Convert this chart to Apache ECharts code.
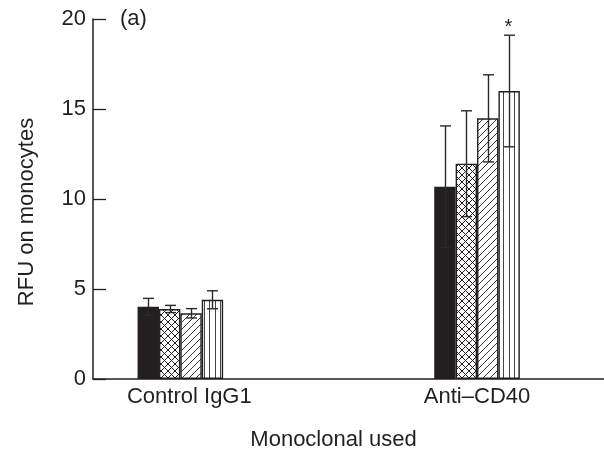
<!DOCTYPE html>
<html>
<head>
<meta charset="utf-8">
<script src="https://cdn.jsdelivr.net/npm/echarts@6/dist/echarts.min.js"></script>
<style>
  html, body { margin: 0; padding: 0; background: #fff; }
  #chart { width: 604px; height: 456px; }
</style>
</head>
<body>
<div id="chart"></div>
<script>
// Monocyte RFU by monoclonal antibody, four treatment groups per antibody
var categories = ['Control IgG1', 'Anti–CD40'];
var groupNames = ['Group 1', 'Group 2', 'Group 3', 'Group 4'];
var means = [
  [4.02, 10.68],   // solid
  [3.89, 11.96],   // cross-hatched
  [3.65, 14.48],   // diagonal hatching
  [4.40, 16.00]    // vertical stripes
];
var errors = [
  [0.46, 3.38],
  [0.20, 2.94],
  [0.26, 2.42],
  [0.50, 3.10]
];
var significance = [
  ['', ''],
  ['', ''],
  ['', ''],
  ['', '*']
];
var yTicks = [0, 5, 10, 15, 20];

var FONT = 'Liberation Sans, Arial, sans-serif';
var INK = '#231f20';
var BAR_W = 21.4;
var FS = 22;

function makePattern(kind) {
  var c = document.createElement('canvas');
  var p;
  var ctx;
  if (kind === 'cross') {
    p = 7;
    c.width = p; c.height = p;
    ctx = c.getContext('2d');
    ctx.fillStyle = '#fff'; ctx.fillRect(0, 0, p, p);
    ctx.strokeStyle = INK; ctx.lineWidth = 1;
    ctx.beginPath();
    ctx.moveTo(0, 0); ctx.lineTo(p, p);
    ctx.moveTo(p, 0); ctx.lineTo(0, p);
    ctx.stroke();
  } else if (kind === 'diag') {
    p = 7;
    c.width = p; c.height = p;
    ctx = c.getContext('2d');
    ctx.fillStyle = '#fff'; ctx.fillRect(0, 0, p, p);
    ctx.strokeStyle = INK; ctx.lineWidth = 0.9;
    ctx.beginPath();
    ctx.moveTo(-1, p + 1); ctx.lineTo(p + 1, -1);
    ctx.moveTo(-1, 1); ctx.lineTo(1, -1);
    ctx.moveTo(p - 1, p + 1); ctx.lineTo(p + 1, p - 1);
    ctx.stroke();
  } else {
    p = 5.35;
    c.width = 107; c.height = 4;
    ctx = c.getContext('2d');
    ctx.fillStyle = '#fff'; ctx.fillRect(0, 0, 107, 4);
    ctx.strokeStyle = '#444'; ctx.lineWidth = 1;
    ctx.beginPath();
    for (var x = 0.5; x < 107; x += p) {
      var xx = Math.round(x) + 0.5;
      ctx.moveTo(xx, 0); ctx.lineTo(xx, 4);
    }
    ctx.stroke();
  }
  return { image: c, repeat: 'repeat' };
}

var fills = [INK, makePattern('cross'), makePattern('diag'), makePattern('vert')];

// antibody positions on a numeric x scale so the axis line can run the full width
var catPos = categories.map(function (_, i) { return i; });

var chart = echarts.init(document.getElementById('chart'), null, { renderer: 'canvas' });

var barSeries = means.map(function (vals, i) {
  return {
    name: groupNames[i],
    type: 'bar',
    data: vals.map(function (v, c) { return [catPos[c], v]; }),
    barWidth: BAR_W,
    barGap: '0%',
    itemStyle: { color: fills[i], borderColor: INK, borderWidth: 1.4 },
    z: 2,
    silent: true
  };
});

// error bars (mean ± error) with caps, plus significance marks
var errData = [];
means.forEach(function (vals, s) {
  vals.forEach(function (v, c) {
    errData.push([catPos[c], v - errors[s][c], v + errors[s][c], s, significance[s][c]]);
  });
});

var errorSeries = {
  type: 'custom',
  data: errData,
  z: 5,
  silent: true,
  renderItem: function (params, api) {
    var cat = api.value(0);
    var s = api.value(3);
    var mark = errData[params.dataIndex][4];
    var offset = (s - 1.5) * BAR_W;
    var lo = api.coord([cat, api.value(1)]);
    var hi = api.coord([cat, api.value(2)]);
    var x = Math.round(lo[0] + offset) + 0.5;
    var cap = 5.5;
    var style = { stroke: '#2a2a2a', lineWidth: 1.4 };
    var children = [
      { type: 'line', shape: { x1: x, y1: lo[1], x2: x, y2: hi[1] }, style: style },
      { type: 'line', shape: { x1: x - cap, y1: hi[1], x2: x + cap, y2: hi[1] }, style: style },
      { type: 'line', shape: { x1: x - cap, y1: lo[1], x2: x + cap, y2: lo[1] }, style: style }
    ];
    if (mark) {
      children.push({
        type: 'text',
        style: {
          text: mark, x: x - 1, y: hi[1] + 2,
          align: 'center', verticalAlign: 'bottom',
          font: '20px ' + FONT, fill: INK
        }
      });
    }
    return { type: 'group', children: children };
  }
};

chart.setOption({
  animation: false,
  backgroundColor: '#fff',
  textStyle: { fontFamily: FONT },
  grid: { left: 93, right: 0, top: 19, bottom: 77 },
  xAxis: {
    type: 'value', min: -0.2944, max: 1.4279,
    axisLine: { show: true, onZero: false, lineStyle: { color: INK, width: 1.5 } },
    axisTick: { show: false },
    axisLabel: {
      customValues: catPos, fontSize: FS, color: INK, fontFamily: FONT, margin: 7,
      formatter: function (v) {
        var i = Math.round(v);
        return i === 0 ? '{c|' + categories[i] + '}' : categories[i];
      },
      rich: {
        c: { fontSize: FS, color: INK, fontFamily: FONT, padding: [0, 0, 0, 18] }
      }
    },
    splitLine: { show: false },
    name: 'Monoclonal used', nameLocation: 'middle', nameGap: 50,
    nameTextStyle: { fontSize: FS, color: INK, fontFamily: FONT, padding: [0, 30, 0, 0] }
  },
  yAxis: {
    type: 'value', min: yTicks[0], max: yTicks[yTicks.length - 1], interval: 5,
    axisLine: { show: true, onZero: false, lineStyle: { color: INK, width: 1.5 } },
    axisTick: { show: true, inside: true, length: 13, lineStyle: { color: INK, width: 1.3 } },
    axisLabel: { fontSize: FS, color: INK, fontFamily: FONT, margin: 7 },
    splitLine: { show: false },
    name: 'RFU on monocytes', nameLocation: 'middle', nameGap: 55,
    nameTextStyle: { fontSize: FS, color: INK, fontFamily: FONT, padding: [0, 26, 0, 0] }
  },
  graphic: [
    {
      type: 'text', left: 120, top: 8,
      style: { text: '(a)', font: FS + 'px ' + FONT, fill: INK }
    }
  ],
  series: barSeries.concat([errorSeries])
});
</script>
</body>
</html>
